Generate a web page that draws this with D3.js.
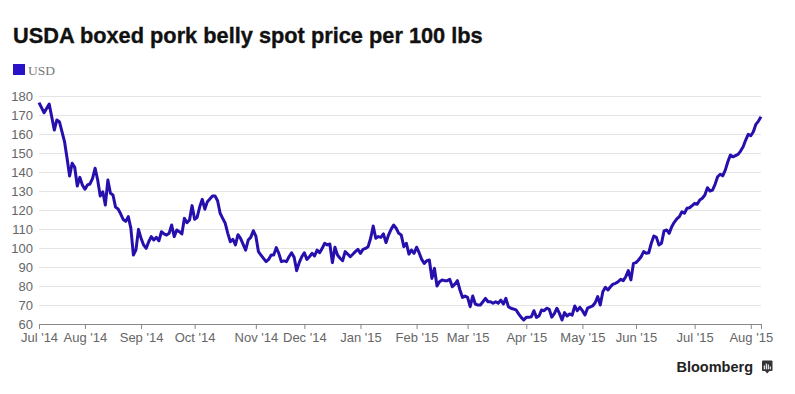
<!DOCTYPE html>
<html>
<head>
<meta charset="utf-8">
<script src="https://cdn.jsdelivr.net/npm/d3@7"></script>
<style>
  body { margin: 0; background: #fff; }
  svg { display: block; font-family: "Liberation Sans", Arial, sans-serif; }
</style>
</head>
<body>
<div id="chart"></div>
<script>
// trading-day index (0 = first session shown) and USD price per 100 lbs
var days = [0, 2, 4, 6, 7, 8, 10, 11, 12, 13, 14, 15, 16, 17, 18, 19, 20, 21, 22, 23,
  24, 25, 26, 27, 28, 29, 30, 31, 32, 33, 34, 35, 36, 37, 38, 39, 40, 41, 42, 43,
  44, 45, 46, 47, 48, 49, 50, 51, 52, 53, 54, 55, 56, 57, 58, 59, 60, 61, 62, 63,
  64, 65, 66, 68, 69, 70, 71, 72, 73, 74, 75, 76, 77, 78, 79, 81, 82, 83, 84, 85,
  86, 87, 89, 90, 91, 92, 93, 94, 95, 96, 97, 98, 99, 100, 101, 102, 103, 104, 105, 106,
  107, 108, 109, 110, 111, 112, 113, 114, 115, 116, 117, 118, 119, 120, 121, 122, 123, 124, 125, 126,
  127, 128, 129, 130, 131, 132, 133, 134, 135, 136, 137, 138, 139, 140, 141, 142, 143, 144, 145, 146,
  147, 148, 149, 150, 151, 152, 153, 154, 155, 156, 157, 158, 159, 160, 161, 162, 163, 164, 165, 166,
  167, 168, 169, 170, 171, 172, 173, 174, 175, 176, 177, 178, 179, 180, 181, 182, 183, 184, 185, 187,
  188, 189, 190, 191, 192, 193, 194, 195, 196, 197, 198, 199, 200, 201, 202, 203, 204, 205, 206, 207,
  208, 209, 210, 211, 212, 213, 214, 215, 217, 218, 219, 220, 221, 222, 223, 224, 225, 226, 227, 228,
  229, 230, 231, 232, 233, 234, 235, 236, 237, 238, 239, 240, 241, 242, 243, 244, 245, 246, 247, 248,
  249, 250, 251, 252, 253, 254, 255, 256, 257, 258, 259, 260, 261, 262, 263, 264, 265, 266, 267, 268,
  269, 270, 271, 272, 274, 275, 276, 277, 278, 279, 280, 281, 282, 283];

var prices = [176.5, 171.2, 175.8, 162.1, 167.4, 166.5, 156, 147.2, 137.9, 144.6, 142.5, 132.6, 137.2, 133.2, 130.9, 133.2, 133.7, 136.7, 142, 135.8,
  127.4, 129.6, 122.6, 135.8, 128.8, 127.9, 121.5, 120.5, 118, 115, 114, 116.5, 110.5, 96.3, 99, 109.8, 105.1, 101.6, 99.8, 103.3,
  106, 104.2, 105.6, 103.8, 108.6, 107.4, 106.8, 107.7, 112.1, 106, 109.5, 108.6, 107.4, 115.6, 113.3, 114.7, 122.3, 115.1, 116.2, 121.7,
  125.6, 120.4, 124.4, 127.4, 127.4, 124.9, 118.3, 115.6, 113, 107.7, 103.3, 104.6, 101.6, 107, 105.1, 98.9, 104.2, 105.6, 109.1, 106.3,
  98.1, 96.3, 92.8, 94, 96.3, 96.3, 100.2, 97.2, 92.8, 93.2, 92.8, 95.4, 97.5, 95.1, 88.1, 92.3, 95.4, 97.5, 94, 95.4,
  97.2, 95.8, 98.9, 97.5, 99.8, 102.5, 101.6, 102.1, 92.3, 100.4, 96.3, 94.6, 93.3, 98.1, 96.8, 95.4, 96.7, 98.1, 99.3, 97.2,
  99.3, 99.8, 100.7, 105.1, 111.6, 105.1, 106, 105.6, 107.4, 102.8, 106.8, 109.8, 112.1, 110.4, 107.7, 106.8, 100.7, 102.5, 96.8, 98.9,
  97.2, 100.4, 97.5, 94, 91.9, 93.3, 93.7, 84, 89.3, 80, 82.3, 83.2, 82.8, 82.8, 83.5, 79.6, 81, 82.8, 77.9, 74,
  74.7, 74, 69.1, 74.7, 70.5, 70, 70, 71.7, 73.5, 71.7, 71.7, 70.9, 71.7, 70.9, 72.6, 70.5, 73.5, 69.1, 68.3, 67.4,
  65.3, 63.5, 62.1, 63.5, 63.5, 63.8, 67, 63.5, 64.2, 67.4, 67, 68.3, 67.7, 63.6, 65.5, 68.3, 65.6, 62.1, 66, 64.2,
  65.3, 64.7, 69.5, 67, 68.8, 67, 64.7, 68.3, 69.5, 71.2, 74.4, 70, 77, 79.3, 77.9, 79.6, 81, 81.4, 82.3, 83.5,
  82.8, 84.9, 88.1, 83.2, 91.9, 92.3, 93.7, 95.4, 98.1, 97.2, 97.5, 102.5, 106.3, 105.6, 101.6, 102.5, 109, 109.5, 107.7, 111.2,
  113.5, 115.3, 116.5, 119.1, 118.3, 120.9, 121.2, 122.3, 123.5, 123, 125.3, 126.2, 127.9, 131.7, 130, 130.5, 133.5, 137.5, 138.8, 138,
  141, 145.4, 148.9, 148, 149.3, 151, 153.3, 156.8, 159.8, 159.1, 161.2, 165.1, 166.8, 169.1];

// first trading day of each month, and the label shown under it
var monthDays = [0, 18, 40, 61, 85, 104, 126, 148, 168, 191, 213, 234, 257, 279, 283];
var monthLabels = ["Jul '14", "Aug '14", "Sep '14", "Oct '14", "Nov '14", "Dec '14", "Jan '15",
  "Feb '15", "Mar '15", "Apr '15", "May '15", "Jun '15", "Jul '15", "Aug '15", ""];

var yTicks = [60, 70, 80, 90, 100, 110, 120, 130, 140, 150, 160, 170, 180];

var lineColor = "#2610ad";

var width = 795, height = 394;
var plotLeft = 39, plotRight = 761, plotTop = 96, plotBottom = 324;

var svg = d3.select("#chart").append("svg")
  .attr("width", width)
  .attr("height", height);

var x = d3.scaleLinear().domain([0, 283]).range([plotLeft, plotRight]);
var y = d3.scaleLinear().domain([60, 180]).range([plotBottom, plotTop]);

// title, scaled to the reference width
var title = svg.append("text")
  .attr("x", 13)
  .attr("y", 43)
  .attr("font-size", 21)
  .attr("font-weight", "bold")
  .attr("fill", "#111")
  .attr("stroke", "#111")
  .attr("stroke-width", 0.35)
  .text("USDA boxed pork belly spot price per 100 lbs");
var tw = title.node().getComputedTextLength();
title.attr("font-size", 21 * 470 / tw);

// legend
svg.append("rect")
  .attr("x", 13).attr("y", 64)
  .attr("width", 12).attr("height", 11)
  .attr("fill", "#2a12c8");
svg.append("text")
  .attr("x", 28).attr("y", 75)
  .attr("font-family", "'Liberation Serif', 'DejaVu Serif', serif")
  .attr("font-size", 13.5)
  .attr("fill", "#777")
  .text("USD");

// y axis with grid
var yAxis = svg.append("g")
  .attr("transform", "translate(" + plotLeft + ",0)")
  .call(d3.axisLeft(y).tickValues(yTicks).tickSize(-(plotRight - plotLeft)).tickPadding(6));
yAxis.select(".domain").remove();
yAxis.selectAll("line")
  .attr("stroke", "#e4e4e4");
yAxis.selectAll(".tick").filter(function(d) { return d === 60; }).select("line").remove();
yAxis.selectAll("text")
  .attr("font-size", 13)
  .attr("font-family", "'Liberation Sans', Arial, sans-serif")
  .attr("fill", "#666");

// x axis
var xAxis = svg.append("g")
  .attr("transform", "translate(0," + plotBottom + ")")
  .call(d3.axisBottom(x)
    .tickValues(monthDays)
    .tickFormat(function(d, i) { return monthLabels[i]; })
    .tickSize(5)
    .tickSizeOuter(0)
    .tickPadding(4));
xAxis.select(".domain").attr("stroke", "#888");
xAxis.selectAll("line").attr("stroke", "#888");
xAxis.selectAll("text")
  .attr("font-size", 13)
  .attr("font-family", "'Liberation Sans', Arial, sans-serif")
  .attr("fill", "#666");

// price line
var line = d3.line()
  .x(function(d, i) { return x(days[i]); })
  .y(function(d) { return y(d); });

svg.append("path")
  .datum(prices)
  .attr("fill", "none")
  .attr("stroke", lineColor)
  .attr("stroke-width", 3)
  .attr("stroke-linejoin", "round")
  .attr("d", line);

// branding
svg.append("text")
  .attr("x", 753).attr("y", 372)
  .attr("text-anchor", "end")
  .attr("font-size", 14.5)
  .attr("font-weight", "bold")
  .attr("fill", "#222")
  .text("Bloomberg");

var logo = svg.append("g").attr("transform", "translate(762,360.5)");
logo.append("rect").attr("width", 10.5).attr("height", 10.5).attr("rx", 1).attr("fill", "#333");
logo.append("path").attr("d", "M3,10.5 L5.2,13 L7.4,10.5 Z").attr("fill", "#333");
[[2.3, 5], [4.3, 3], [6.3, 4], [8.3, 6]].forEach(function(b) {
  logo.append("rect")
    .attr("x", b[0] - 0.55).attr("y", b[1])
    .attr("width", 1.1).attr("height", 8.8 - b[1])
    .attr("fill", "#fff");
});
</script>
</body>
</html>
